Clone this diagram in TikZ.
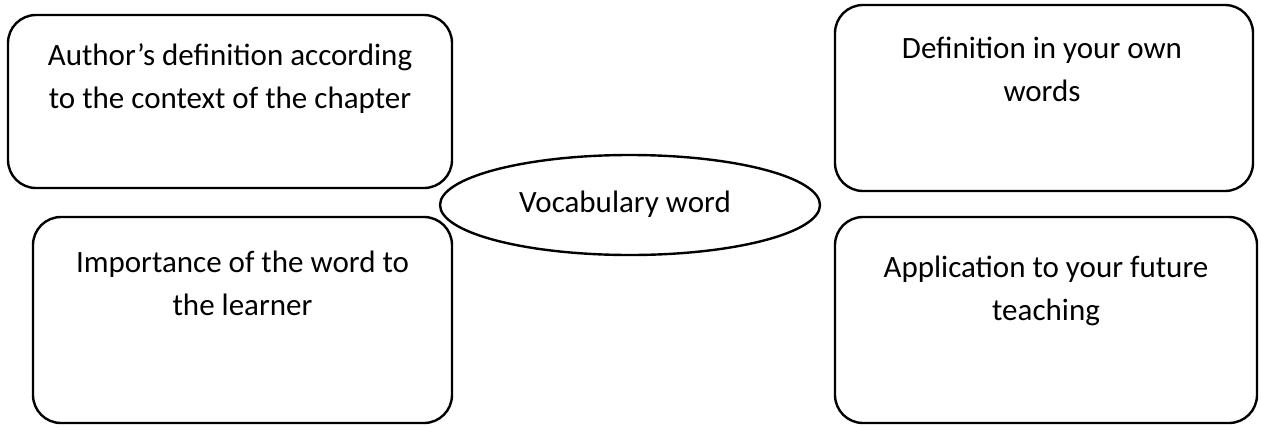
\documentclass[tikz,border=0pt]{standalone}
\usepackage{fontspec}
\setmainfont{Carlito}
\usetikzlibrary{shapes.geometric}
\begin{document}
\begin{tikzpicture}[x=1pt,y=-1pt,
  box/.style={draw=black, line width=2.4pt, rounded corners=28pt, rectangle, inner sep=0pt},
  oval/.style={draw=black, line width=2.4pt, ellipse, inner sep=0pt},
  lbl/.style={font=\fontsize{31}{43}\selectfont, align=center, anchor=base, inner sep=0pt}]
\useasboundingbox (0,0) rectangle (1261,426);
\node[box, minimum width=444pt, minimum height=173pt] (tl) at (230,101.5) {};
\node[box, minimum width=419pt, minimum height=206pt] (bl) at (242.5,320) {};
\node[box, minimum width=418pt, minimum height=186pt] (tr) at (1044,98) {};
\node[box, minimum width=422pt, minimum height=206pt] (br) at (1046,320) {};
\node[oval, minimum width=380pt, minimum height=100pt] (voc) at (630,205) {};
\node[lbl] (tltext) at (230,108) {Author’s definition according\\to the context of the chapter};
\node[lbl] (bltext) at (242.5,315) {Importance of the word to\\the learner};
\node[lbl] (trtext) at (1042,101) {Definition in your own\\words};
\node[lbl] (brtext) at (1046,320) {Application to your future\\teaching};
\node[lbl] (voctext) at (625,212) {Vocabulary word};
\end{tikzpicture}
\end{document}
